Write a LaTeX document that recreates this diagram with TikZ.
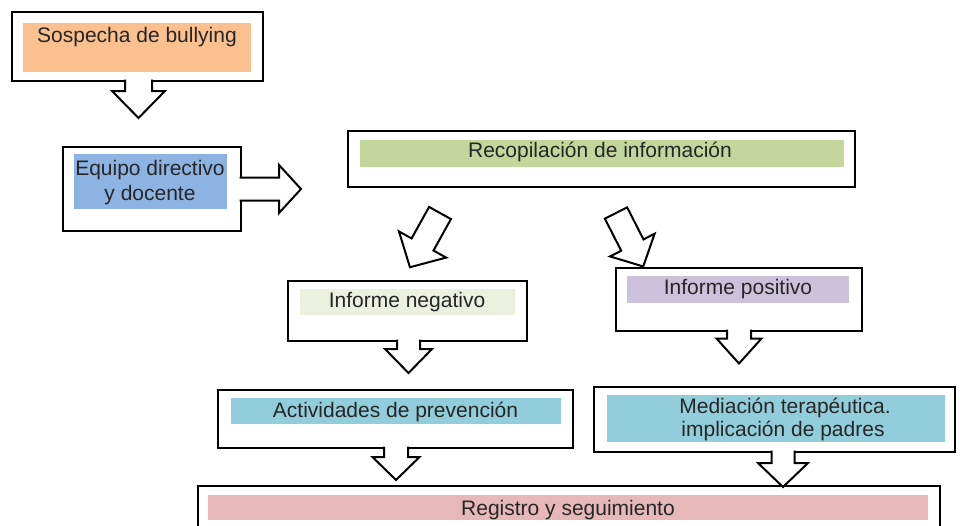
\documentclass[tikz,border=0pt]{standalone}
\usepackage{fontspec}
\setmainfont{Liberation Sans}
\usetikzlibrary{calc}
\definecolor{cOrange}{HTML}{FAC090}
\definecolor{cBlue}{HTML}{8DB3E2}
\definecolor{cOlive}{HTML}{C3D69B}
\definecolor{cOliveL}{HTML}{EBF1DE}
\definecolor{cPurple}{HTML}{CCC1DA}
\definecolor{cAqua}{HTML}{92CDDC}
\definecolor{cRed}{HTML}{E6B9B8}
\definecolor{cText}{HTML}{262626}
\tikzset{
  outerbox/.style={draw=black, line width=2.2pt, fill=white, inner sep=0pt, outer sep=0pt},
  band/.style={fill=#1, draw=none, inner sep=0pt, outer sep=0pt},
  lbl/.style={text=cText, font=\fontsize{21}{24}\selectfont, inner sep=0pt, outer sep=0pt, anchor=base, align=center},
  blockarrow/.style={draw=black, line width=2pt, fill=white, line join=miter},
}
% box from corners
\newcommand\boxnode[6]{\node[#6, minimum width={#4-#2}, minimum height={#5-#3}] (#1) at ({(#2+#4)/2},{(#3+#5)/2}) {};}
% block arrow: #1 start, #2 rotation, #3 shaft length, #4 shaft half width, #5 head half width, #6 head length, #7 closing
\newcommand\barrow[7]{%
  \draw[blockarrow, shift={#1}, rotate=#2] (-#4,0) -- (-#4,#3) -- (-#5,#3) -- (0,#3+#6) -- (#5,#3) -- (#4,#3) -- (#4,0) #7;}
\begin{document}
\begin{tikzpicture}[x=1pt,y=-1pt]
\useasboundingbox (0,0) rectangle (960,525);
\clip (0,0) rectangle (960,525);
\fill[white] (0,0) rectangle (960,525);

% outer boxes
\boxnode{sospecha}{12}{12}{263}{81}{outerbox}
\boxnode{equipo}{63}{147}{241}{231}{outerbox}
\boxnode{recop}{348}{131}{855}{187}{outerbox}
\boxnode{neg}{288}{281}{527}{341}{outerbox}
\boxnode{pos}{616}{268}{862}{331}{outerbox}
\boxnode{activ}{218}{390}{573}{448}{outerbox}
\boxnode{media}{594}{387}{955}{452}{outerbox}
\boxnode{registro}{198}{486}{940}{560}{outerbox}

% coloured bands
\boxnode{sospechaB}{23}{23}{251}{72}{band=cOrange}
\boxnode{equipoB}{74}{154}{227}{209}{band=cBlue}
\boxnode{recopB}{360}{140}{844}{167}{band=cOlive}
\boxnode{negB}{300}{289}{515}{315}{band=cOliveL}
\boxnode{posB}{627}{276}{849}{303}{band=cPurple}
\boxnode{activB}{231}{398}{561}{424}{band=cAqua}
\boxnode{mediaB}{607}{395}{945}{442}{band=cAqua}
\boxnode{registroB}{208}{495}{928}{520}{band=cRed}

% texts
\node[lbl] (sospechaT) at (137,42) {Sospecha de bullying};
\node[lbl] (equipoT1) at (150,175) {Equipo directivo};
\node[lbl] (equipoT2) at (150,200) {y docente};
\node[lbl] (recopT) at (600,157) {Recopilación de información};
\node[lbl] (negT) at (407,307) {Informe negativo};
\node[lbl] (posT) at (738,294) {Informe positivo};
\node[lbl] (activT) at (395.5,417) {Actividades de prevención};
\node[lbl] (mediaT1) at (785,413) {Mediación terapéutica.};
\node[lbl] (mediaT2) at (783,436) {implicación de padres};
\node[lbl] (registroT) at (568,515) {Registro y seguimiento};

% block arrows
\barrow{($(sospecha.south)+(1,-1.3)$)}{0}{11.3}{13.5}{26.5}{27}{}
\barrow{($(equipo.east)+(-1.3,0)$)}{90}{39.3}{11.5}{24}{22}{}
\barrow{($(recop.south)+(-161.5,26)$)}{-29}{36}{12.5}{27}{26}{-- cycle}
\barrow{($(recop.south)+(14.5,26)$)}{27}{36}{12.5}{25}{24}{-- cycle}
\barrow{($(neg.south)+(1,-1.3)$)}{0}{9.3}{11.5}{23.5}{24}{}
\barrow{($(pos.south)+(0,-1.3)$)}{0}{8.8}{12}{22.5}{25}{}
\barrow{($(activ.south)+(0.5,-1.3)$)}{0}{10.3}{12}{23.5}{23}{}
\barrow{($(media.south)+(8.5,-1.3)$)}{0}{12.3}{11.5}{25}{24}{}
\end{tikzpicture}
\end{document}
